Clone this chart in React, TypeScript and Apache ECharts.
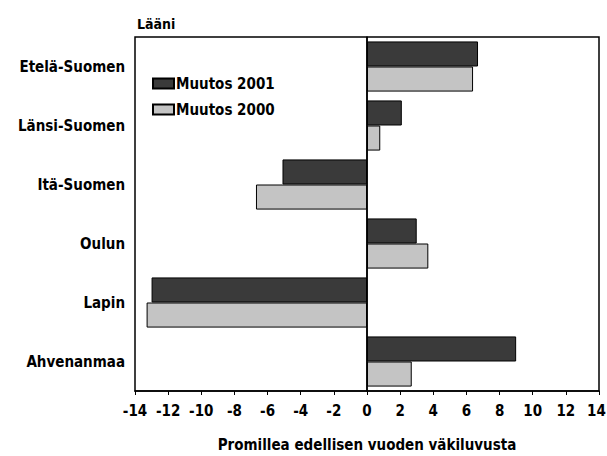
import React, { useEffect, useRef } from "react";
import * as echarts from "echarts";

const categories = ["Etelä-Suomen", "Länsi-Suomen", "Itä-Suomen", "Oulun", "Lapin", "Ahvenanmaa"];
const muutos2001 = [6.7, 2.1, -5.1, 3.0, -13.0, 9.0];
const muutos2000 = [6.4, 0.8, -6.7, 3.7, -13.3, 2.7];
const seriesNames = ["Muutos 2001", "Muutos 2000"];

const FONT = "'Liberation Sans Narrow', 'DejaVu Sans Condensed', 'Liberation Sans', sans-serif";
const tickFont = { fontFamily: FONT, fontSize: 15, fontWeight: "bold", color: "#000" };

export default function App() {
  const ref = useRef<HTMLDivElement>(null);
  useEffect(() => {
    if (!ref.current) return;
    const chart = echarts.init(ref.current, null, { renderer: "svg" });
    chart.setOption({
      animation: false,
      backgroundColor: "#ffffff",
      textStyle: { fontFamily: FONT },
      grid: {
        left: 135,
        right: 8,
        top: 37,
        bottom: 65,
        outerBoundsMode: "none",
        containLabel: false,
        show: true,
        borderColor: "#000",
        borderWidth: 1.5,
        backgroundColor: "transparent",
      },
      legend: {
        orient: "vertical",
        left: 147,
        top: 71,
        itemWidth: 21,
        itemHeight: 10,
        itemGap: 11,
        icon: "rect",
        data: seriesNames,
        textStyle: { fontFamily: FONT, fontSize: 15, fontWeight: "bold", color: "#000", padding: [0, 0, 0, -3] },
      },
      graphic: [
        {
          type: "text",
          left: 137,
          top: 17,
          style: { text: "Lääni", fontFamily: FONT, fontSize: 14, fontWeight: "bold", fill: "#000" },
        },
      ],
      xAxis: {
        type: "value",
        min: -14,
        max: 14,
        interval: 2,
        name: "Promillea edellisen vuoden väkiluvusta",
        nameLocation: "middle",
        nameGap: 46,
        nameTextStyle: { fontFamily: FONT, fontSize: 15, fontWeight: "bold", color: "#000" },
        axisLine: { show: true, lineStyle: { color: "#000", width: 1.5 } },
        axisTick: { show: true, length: 4, lineStyle: { color: "#000" } },
        axisLabel: {
          ...tickFont,
          margin: 12,
          formatter: (v: number) => (v === 14 ? "{last|" + v + "}" : String(v)),
          rich: { last: { ...tickFont, padding: [0, 5, 0, 0] } },
        },
        splitLine: { show: false },
      },
      yAxis: {
        type: "category",
        inverse: true,
        data: categories,
        axisLine: { show: true, lineStyle: { color: "#000", width: 1.5 } },
        axisTick: { show: false },
        axisLabel: { fontFamily: FONT, fontSize: 15, fontWeight: "bold", color: "#000", margin: 10 },
      },
      series: [
        {
          name: seriesNames[0],
          type: "bar",
          data: muutos2001,
          barGap: "0%",
          barCategoryGap: "15%",
          itemStyle: { color: "#3a3a3a", borderColor: "#000", borderWidth: 1 },
          markLine: {
            silent: true,
            symbol: "none",
            label: { show: false },
            lineStyle: { color: "#000", type: "solid", width: 1.5 },
            data: [{ xAxis: 0 }],
          },
        },
        {
          name: seriesNames[1],
          type: "bar",
          data: muutos2000,
          barGap: "0%",
          barCategoryGap: "15%",
          itemStyle: { color: "#c4c4c4", borderColor: "#000", borderWidth: 1 },
        },
      ],
    });
    return () => chart.dispose();
  }, []);
  return (
    <div
      ref={ref}
      style={{ position: "absolute", left: 0, top: 0, width: 607, height: 456 }}
    />
  );
}
